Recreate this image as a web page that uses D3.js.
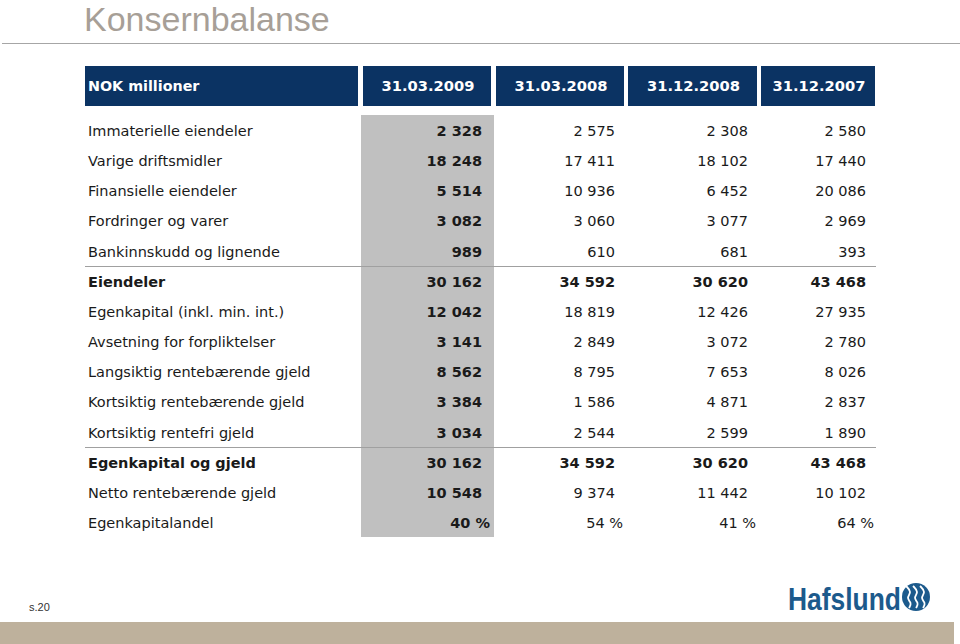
<!DOCTYPE html>
<html>
<head>
<meta charset="utf-8">
<script src="https://cdn.jsdelivr.net/npm/d3@7"></script>
<style>
  html, body { margin: 0; padding: 0; background: #ffffff; }
  svg { display: block; }
</style>
</head>
<body>
<svg id="chart" width="960" height="644"></svg>
<script>
// ---- data ----
const title = "Konsernbalanse";
const unitLabel = "NOK millioner";
const periods = ["31.03.2009", "31.03.2008", "31.12.2008", "31.12.2007"];
const rowLabels = [
  "Immaterielle eiendeler",
  "Varige driftsmidler",
  "Finansielle eiendeler",
  "Fordringer og varer",
  "Bankinnskudd og lignende",
  "Eiendeler",
  "Egenkapital (inkl. min. int.)",
  "Avsetning for forpliktelser",
  "Langsiktig rentebærende gjeld",
  "Kortsiktig rentebærende gjeld",
  "Kortsiktig rentefri gjeld",
  "Egenkapital og gjeld",
  "Netto rentebærende gjeld",
  "Egenkapitalandel"
];
const values_2009Q1 = [2328, 18248, 5514, 3082, 989, 30162, 12042, 3141, 8562, 3384, 3034, 30162, 10548, 40];
const values_2008Q1 = [2575, 17411, 10936, 3060, 610, 34592, 18819, 2849, 8795, 1586, 2544, 34592, 9374, 54];
const values_2008Q4 = [2308, 18102, 6452, 3077, 681, 30620, 12426, 3072, 7653, 4871, 2599, 30620, 11442, 41];
const values_2007Q4 = [2580, 17440, 20086, 2969, 393, 43468, 27935, 2780, 8026, 2837, 1890, 43468, 10102, 64];
const totalRows = ["Eiendeler", "Egenkapital og gjeld"];
const percentRows = ["Egenkapitalandel"];
const separatorAfter = ["Bankinnskudd og lignende", "Kortsiktig rentefri gjeld"];
const pageLabel = "s.20";
const brand = "Hafslund";

const series = [values_2009Q1, values_2008Q1, values_2008Q4, values_2007Q4];

// ---- layout ----
const svg = d3.select("#chart");
const FONT = "'DejaVu Sans', Verdana, sans-serif";
const NAVY = "#0b3363";
const BODY_SIZE = 14.5;

// title
svg.append("text")
  .attr("x", 84).attr("y", 31)
  .attr("font-family", "'Liberation Sans', Arial, sans-serif")
  .attr("font-size", 34)
  .attr("fill", "#a79f97")
  .text(title);
svg.append("line")
  .attr("x1", 2).attr("x2", 960).attr("y1", 43.5).attr("y2", 43.5)
  .attr("stroke", "#a6a6a6").attr("stroke-width", 1);

// column scale (header boxes)
const colEdges = [[363, 491], [496, 624], [628, 757], [761, 875]];
const xCol = d3.scaleOrdinal().domain(periods).range(colEdges);

// row scale
const y = d3.scalePoint().domain(rowLabels).range([131, 523]);
const rowStep = y.step();

// header
const headerTop = 66, headerH = 40;
svg.append("rect").attr("x", 85).attr("y", headerTop).attr("width", 273).attr("height", headerH).attr("fill", NAVY);
svg.append("text")
  .attr("x", 88).attr("y", headerTop + headerH / 2 + 5)
  .attr("font-family", FONT).attr("font-weight", "bold").attr("font-size", 14.3)
  .attr("fill", "#ffffff").text(unitLabel);

const hdr = svg.append("g").selectAll("g").data(periods).join("g");
hdr.append("rect")
  .attr("x", d => xCol(d)[0]).attr("y", headerTop)
  .attr("width", d => xCol(d)[1] - xCol(d)[0]).attr("height", headerH)
  .attr("fill", NAVY);
hdr.append("text")
  .attr("x", d => (xCol(d)[0] + xCol(d)[1]) / 2 + 1).attr("y", headerTop + headerH / 2 + 5)
  .attr("text-anchor", "middle")
  .attr("font-family", FONT).attr("font-weight", "bold").attr("font-size", 14.7)
  .attr("fill", "#ffffff").text(d => d);

// highlight column
svg.append("rect")
  .attr("x", xCol(periods[0])[0] - 2).attr("y", 115)
  .attr("width", xCol(periods[0])[1] - xCol(periods[0])[0] + 5)
  .attr("height", 422)
  .attr("fill", "#c0c0c0");

// separators
separatorAfter.forEach(r => {
  const yy = Math.round(y(r) + rowStep / 2) + 0.5 - 1;
  svg.append("line")
    .attr("x1", 85).attr("x2", 876).attr("y1", yy).attr("y2", yy)
    .attr("stroke", "#a0a0a0").attr("stroke-width", 1);
});

// number format with space thousands separator
const fmt = v => d3.format(",")(v).replace(/,/g, " ");

// rows
const rows = svg.append("g").selectAll("g").data(rowLabels).join("g")
  .attr("transform", d => `translate(0,${y(d) + 5})`);

rows.append("text")
  .attr("x", 88).attr("y", 0)
  .attr("font-family", FONT).attr("font-size", BODY_SIZE)
  .attr("font-weight", d => totalRows.includes(d) ? "bold" : "normal")
  .attr("fill", "#1a1a1a")
  .text(d => d);

rows.each(function(label, i) {
  const g = d3.select(this);
  const isPct = percentRows.includes(label);
  series.forEach((s, c) => {
    const bold = c === 0 || totalRows.includes(label);
    g.append("text")
      .attr("x", xCol(periods[c])[1] - (isPct ? 1 : 9))
      .attr("y", 0)
      .attr("text-anchor", "end")
      .attr("font-family", FONT).attr("font-size", BODY_SIZE)
      .attr("font-weight", bold ? "bold" : "normal")
      .attr("fill", "#1a1a1a")
      .text(isPct ? s[i] + " %" : fmt(s[i]));
  });
});

// footer
svg.append("text")
  .attr("x", 29).attr("y", 611)
  .attr("font-family", "'Liberation Sans', Arial, sans-serif")
  .attr("font-size", 11).attr("fill", "#333333")
  .text(pageLabel);

svg.append("rect").attr("x", 0).attr("y", 622).attr("width", 954).attr("height", 22).attr("fill", "#beb19c");

const BLUE = "#1c5a8c";
svg.append("text")
  .attr("x", 788).attr("y", 610)
  .attr("font-family", "'Liberation Sans Narrow', 'Liberation Sans', Arial, sans-serif")
  .attr("font-weight", "bold").attr("font-size", 31)
  .attr("textLength", 113).attr("lengthAdjust", "spacingAndGlyphs")
  .attr("fill", BLUE).text(brand);

const emb = svg.append("g").attr("transform", "translate(916,597)");
emb.append("circle").attr("r", 14).attr("fill", BLUE);
const wave = d3.line().curve(d3.curveBasis);
[-7, 0, 7].forEach(dx => {
  emb.append("path")
    .attr("d", wave([[dx - 3, -11], [dx + 3, -5], [dx - 3, 1], [dx + 3, 6], [dx, 11]]))
    .attr("fill", "none").attr("stroke", "#ffffff").attr("stroke-width", 1.8);
});
</script>
</body>
</html>
